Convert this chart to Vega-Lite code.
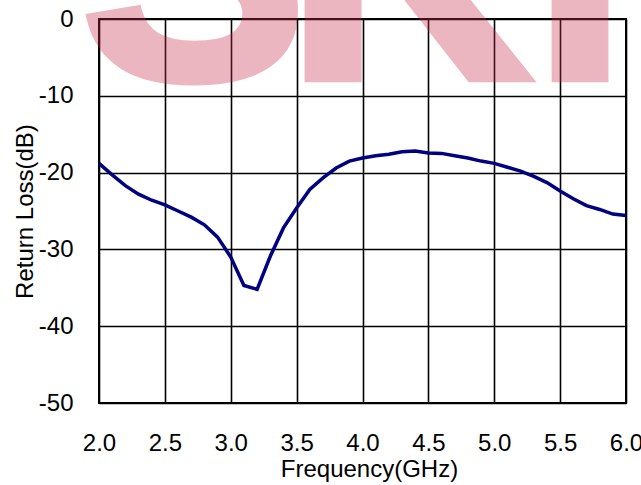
{
  "$schema": "https://vega.github.io/schema/vega-lite/v6.json",
  "autosize": "none",
  "width": 527,
  "height": 384,
  "padding": {"left": 99, "top": 19, "right": 15, "bottom": 82},
  "background": "white",
  "encoding": {
    "x": {
      "field": "f",
      "type": "quantitative",
      "scale": {"domain": [2, 6], "nice": false, "zero": false},
      "axis": {
        "values": [2, 2.5, 3, 3.5, 4, 4.5, 5, 5.5, 6],
        "format": ".1f",
        "title": "Frequency(GHz)",
        "labelBaseline": "alphabetic",
        "labelPadding": 47,
        "labelDx": -6,
        "labelFlush": false,
        "labelOverlap": false,
        "titleX": 270,
        "titleY": 73,
        "titleBaseline": "alphabetic",
        "titleAlign": "center"
      }
    },
    "y": {
      "field": "rl",
      "type": "quantitative",
      "scale": {"domain": [-50, 0], "nice": false, "zero": false},
      "axis": {
        "values": [-50, -40, -30, -20, -10, 0],
        "labelExpr": "datum.value + ''",
        "title": "Return Loss(dB)",
        "labelBaseline": "middle",
        "labelPadding": 26,
        "labelFlush": false,
        "labelOverlap": false,
        "titleX": -67,
        "titleY": 192,
        "titleAngle": -90,
        "titleBaseline": "alphabetic",
        "titleAlign": "center"
      }
    }
  },
  "layer": [
    {
      "data": {
        "values": [
          {"f": 2.0, "rl": -18.8},
          {"f": 2.1, "rl": -20.3},
          {"f": 2.2, "rl": -21.7},
          {"f": 2.3, "rl": -22.8},
          {"f": 2.4, "rl": -23.6},
          {"f": 2.5, "rl": -24.2},
          {"f": 2.6, "rl": -25.0},
          {"f": 2.7, "rl": -25.8},
          {"f": 2.8, "rl": -26.8},
          {"f": 2.9, "rl": -28.4},
          {"f": 3.0, "rl": -31.0},
          {"f": 3.1, "rl": -34.7},
          {"f": 3.2, "rl": -35.2},
          {"f": 3.3, "rl": -30.9},
          {"f": 3.4, "rl": -27.2},
          {"f": 3.5, "rl": -24.6},
          {"f": 3.6, "rl": -22.2},
          {"f": 3.7, "rl": -20.7},
          {"f": 3.8, "rl": -19.4},
          {"f": 3.9, "rl": -18.5},
          {"f": 4.0, "rl": -18.1},
          {"f": 4.1, "rl": -17.8},
          {"f": 4.2, "rl": -17.6},
          {"f": 4.3, "rl": -17.3},
          {"f": 4.4, "rl": -17.2},
          {"f": 4.5, "rl": -17.45},
          {"f": 4.6, "rl": -17.5},
          {"f": 4.7, "rl": -17.8},
          {"f": 4.8, "rl": -18.1},
          {"f": 4.9, "rl": -18.5},
          {"f": 5.0, "rl": -18.8},
          {"f": 5.1, "rl": -19.3},
          {"f": 5.2, "rl": -19.8},
          {"f": 5.3, "rl": -20.5},
          {"f": 5.4, "rl": -21.3},
          {"f": 5.5, "rl": -22.4},
          {"f": 5.6, "rl": -23.4},
          {"f": 5.7, "rl": -24.3},
          {"f": 5.8, "rl": -24.8},
          {"f": 5.9, "rl": -25.4},
          {"f": 6.0, "rl": -25.6}
        ]
      },
      "mark": {"type": "line", "color": "#000080", "strokeWidth": 3.5}
    },
    {
      "data": {
        "values": [
          {"letter": "S", "f": 2.72, "rl": -7.7},
          {"letter": "K", "f": 4.35, "rl": -7.7},
          {"letter": "Y", "f": 5.65, "rl": -7.7}
        ]
      },
      "mark": {
        "type": "text",
        "font": "Liberation Sans",
        "fontWeight": "bold",
        "fontSize": 340,
        "align": "center",
        "baseline": "alphabetic",
        "color": "#C8304E",
        "stroke": "#C8304E",
        "strokeWidth": 8,
        "opacity": 0.35
      },
      "encoding": {"text": {"field": "letter"}}
    }
  ],
  "config": {
    "view": {"stroke": "black", "strokeWidth": 2},
    "font": "Liberation Sans",
    "axis": {
      "domain": false,
      "ticks": false,
      "grid": true,
      "gridColor": "black",
      "gridOpacity": 1,
      "gridWidth": 1.6,
      "labelFont": "Liberation Sans",
      "labelFontSize": 24,
      "labelColor": "black",
      "titleFont": "Liberation Sans",
      "titleFontSize": 24,
      "titleFontWeight": "normal",
      "titleColor": "black"
    }
  }
}
